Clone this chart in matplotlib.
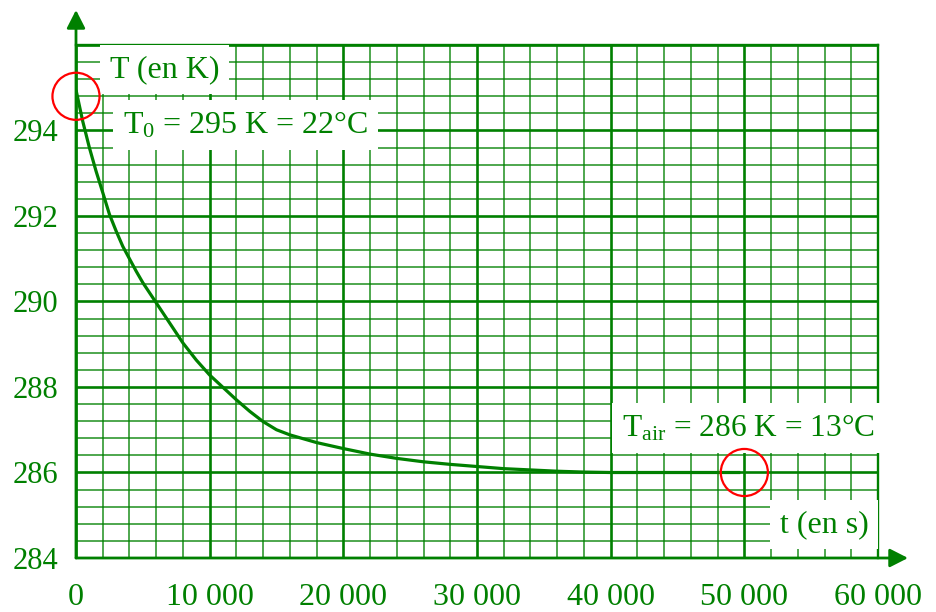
import matplotlib
matplotlib.use("Agg")
import matplotlib.pyplot as plt
from matplotlib.ticker import MultipleLocator

plt.rcParams['font.family'] = ['Liberation Serif', 'DejaVu Serif']
plt.rcParams['mathtext.fontset'] = 'custom'
plt.rcParams['mathtext.rm'] = 'Liberation Serif'
plt.rcParams['mathtext.it'] = 'Liberation Serif:italic'

GREEN = '#008000'

# data
t_s = [0, 500, 1000, 1500, 2000, 2500, 3000, 3500, 4000, 4500, 5000, 6000,
       7000, 8000, 9000, 10000, 12000, 13000, 14000, 15000, 16000, 18000,
       20000, 22000, 24000, 26000, 28000, 30000, 32000, 34000, 36000, 38000,
       40000, 44000, 49700]
T_K = [294.95, 294.22, 293.60, 293.05, 292.55, 292.04, 291.65, 291.29, 291.0,
       290.71, 290.44, 289.97, 289.50, 289.03, 288.63, 288.28, 287.70, 287.43,
       287.19, 287.0, 286.88, 286.70, 286.56, 286.43, 286.33, 286.25, 286.19,
       286.14, 286.09, 286.06, 286.03, 286.01, 286.0, 286.0, 286.0]
highlight_t = [0, 50000]
highlight_T = [294.8, 286.0]

x_ticks = [0, 10000, 20000, 30000, 40000, 50000, 60000]
x_labels = ['0', '10 000', '20 000', '30 000', '40 000', '50 000', '60 000']
y_ticks = [284, 286, 288, 290, 292, 294, 296]
y_labels = ['284', '286', '288', '290', '292', '294', '']

fig = plt.figure(figsize=(9.36, 6.12), dpi=100)
W, H = 936, 612
ax_l, ax_r, ax_b, ax_t = 76, 878, 558, 45
ax = fig.add_axes([ax_l / W, 1 - ax_b / H, (ax_r - ax_l) / W, (ax_b - ax_t) / H])

ax.set_xlim(0, 60000)
ax.set_ylim(284, 296)
ax.set_xticks(x_ticks)
ax.set_xticklabels(x_labels)
ax.set_yticks(y_ticks)
ax.set_yticklabels(y_labels)
ax.xaxis.set_minor_locator(MultipleLocator(2000))
ax.yaxis.set_minor_locator(MultipleLocator(0.4))
ax.tick_params(which='both', length=0, colors=GREEN)
ax.tick_params(axis='y', pad=13, labelsize=22)
ax.tick_params(axis='x', pad=18, labelsize=23)

ax.grid(which='major', color=GREEN, lw=1.9, zorder=0)
ax.grid(which='minor', color=GREEN, lw=1.3, alpha=0.75, zorder=0)
ax.set_axisbelow(True)

for s in ['top', 'right']:
    ax.spines[s].set_color(GREEN)
    ax.spines[s].set_linewidth(1.7)
for s in ['left', 'bottom']:
    ax.spines[s].set_visible(False)

# axes with arrows
ap = dict(arrowstyle='-|>,head_length=0.55,head_width=0.28', lw=2, color=GREEN,
          mutation_scale=20, shrinkA=0, shrinkB=0)
ax.annotate('', xy=(0, 1 + 35 / 513), xycoords='axes fraction', xytext=(0, 0),
            textcoords='axes fraction', arrowprops=ap, annotation_clip=False)
ax.annotate('', xy=(1 + 30 / 802, 0), xycoords='axes fraction', xytext=(0, 0),
            textcoords='axes fraction', arrowprops=ap, annotation_clip=False)

ax.plot(t_s, T_K, color=GREEN, lw=2.3, zorder=3, solid_capstyle='butt',
        solid_joinstyle='round')

ax.scatter(highlight_t, highlight_T, s=1150, facecolors='none', edgecolors='red',
           linewidths=1.6, zorder=5, clip_on=False)

box = dict(facecolor='white', edgecolor='none', boxstyle='square,pad=0.3')
ax.text(2540, 295.25, 'T (en K)', color=GREEN, fontsize=23, va='baseline',
        bbox=box, zorder=4)
ax.text(3516, 293.93, 'T$_\\mathrm{0}$ = 295 K = 22°C', color=GREEN, fontsize=23,
        va='baseline', bbox=box, zorder=4)
ax.text(40825, 286.85, 'T$_\\mathrm{air}$ = 286 K = 13°C', color=GREEN, fontsize=22.6,
        va='baseline', bbox=box, zorder=4)
ax.text(52668, 284.61, 't (en s)', color=GREEN, fontsize=23, va='baseline',
        bbox=box, zorder=4)

fig.savefig('out.png', dpi=100)
